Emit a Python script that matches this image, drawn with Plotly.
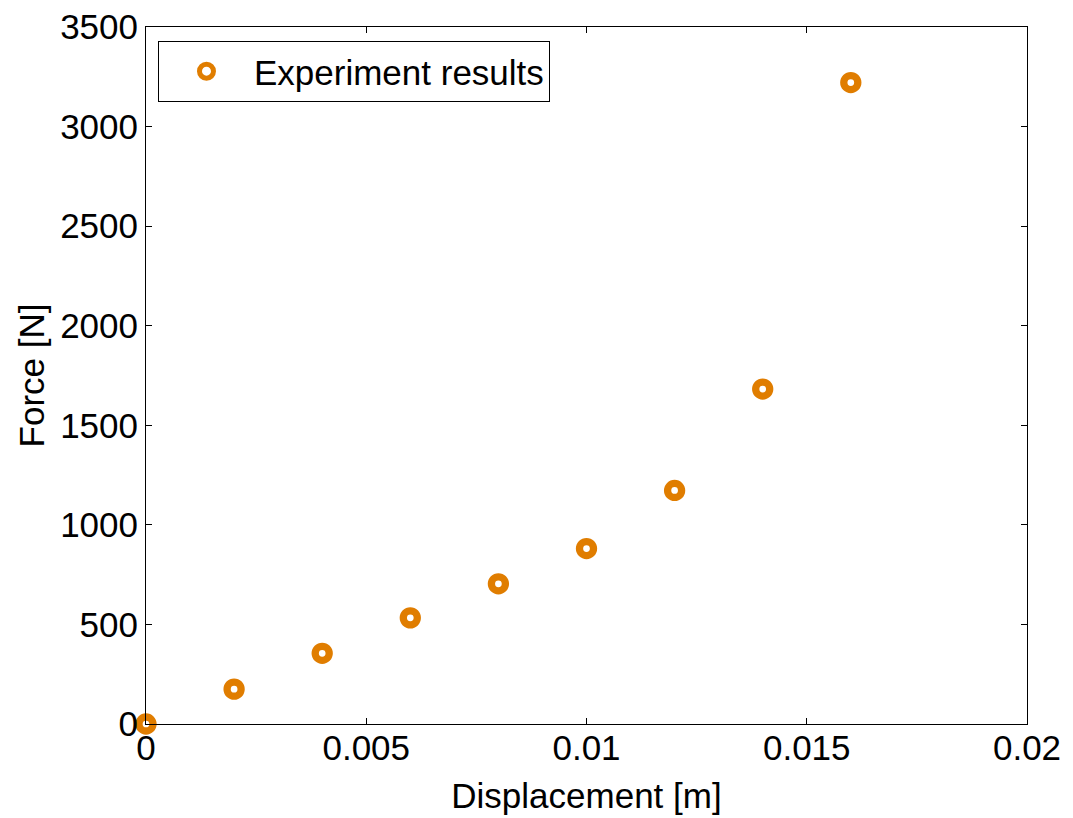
import plotly.graph_objects as go

displacement = [0.0, 0.002, 0.004, 0.006, 0.008, 0.010, 0.012, 0.014, 0.016]
force = [0, 175, 355, 533, 704, 881, 1173, 1682, 3221]

x_tickvals = [0, 0.005, 0.01, 0.015, 0.02]
x_ticktext = ["0", "0.005", "0.01", "0.015", "0.02"]
y_tickvals = [0, 500, 1000, 1500, 2000, 2500, 3000, 3500]
y_ticktext = ["0", "500", "1000", "1500", "2000", "2500", "3000", "3500"]

ORANGE = "rgb(224,125,0)"
FONT = "Liberation Sans, Arial, sans-serif"
FS = 35

fig = go.Figure()
fig.add_trace(go.Scatter(
    x=displacement, y=force, mode="markers", name="Experiment results",
    marker=dict(symbol="circle", size=14, color="white",
                line=dict(color=ORANGE, width=7.3)),
    cliponaxis=False,
))

axis_common = dict(
    showline=True, linecolor="black", linewidth=1, mirror="ticks",
    ticks="inside", ticklen=6, tickwidth=1, tickcolor="black",
    showgrid=False, zeroline=False, automargin=False,
    ticklabeloverflow="allow",
    tickfont=dict(family=FONT, size=FS, color="black"),
)

# page body has an 8px default margin, so the figure is sized/offset for it
fig.update_layout(
    width=1065, height=810,
    margin=dict(l=138, r=46, t=19, b=94),
    paper_bgcolor="white", plot_bgcolor="white",
    font=dict(family=FONT, size=FS, color="black"),
    showlegend=True,
    legend=dict(
        x=0.0136, y=0.98, xanchor="left", yanchor="top",
        bgcolor="white", bordercolor="black", borderwidth=1,
        itemwidth=85,
        font=dict(family=FONT, size=FS, color="black"),
    ),
    xaxis=dict(
        range=[0, 0.02], tickvals=x_tickvals, ticktext=x_ticktext,
        title=dict(text="Displacement [m]", standoff=17,
                   font=dict(family=FONT, size=FS)),
        ticklabelstandoff=-7,
        **axis_common,
    ),
    yaxis=dict(
        range=[0, 3500], tickvals=y_tickvals, ticktext=y_ticktext,
        title=dict(text="Force [N]", standoff=4,
                   font=dict(family=FONT, size=FS)),
        **axis_common,
    ),
)

fig.write_html("out.html")
